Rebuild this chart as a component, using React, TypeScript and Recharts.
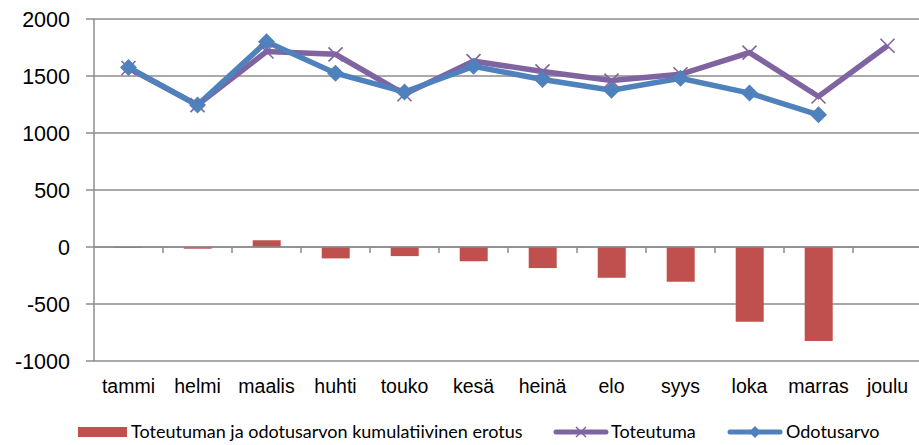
import React from 'react';
import { ComposedChart, Bar, Line, XAxis, YAxis, CartesianGrid, ReferenceLine } from 'recharts';

const months = ['tammi', 'helmi', 'maalis', 'huhti', 'touko', 'kesä', 'heinä', 'elo', 'syys', 'loka', 'marras', 'joulu'];
const toteutuma = [1570, 1245, 1715, 1690, 1340, 1630, 1540, 1460, 1515, 1705, 1320, 1765];
const odotusarvo: (number | null)[] = [1575, 1245, 1800, 1525, 1360, 1585, 1470, 1375, 1480, 1350, 1160, null];
const erotus = [-8, -15, 60, -100, -80, -125, -185, -270, -305, -655, -825, null];
const yTicks = [-1000, -500, 0, 500, 1000, 1500, 2000];

const RED = '#C0504D';
const PURPLE = '#8064A2';
const BLUE = '#4F81BD';
const GRID = '#8c8c8c';

const data = months.map((m, i) => ({
  name: m,
  erotus: erotus[i],
  toteutuma: toteutuma[i],
  odotusarvo: odotusarvo[i],
}));

const CrossDot = (props: any) => {
  const { cx, cy } = props;
  if (cx == null || cy == null) return null;
  const s = 7;
  return (
    <g stroke={PURPLE} strokeWidth={1.6}>
      <line x1={cx - s} y1={cy - s} x2={cx + s} y2={cy + s} />
      <line x1={cx - s} y1={cy + s} x2={cx + s} y2={cy - s} />
    </g>
  );
};

const DiamondDot = (props: any) => {
  const { cx, cy, value } = props;
  if (cx == null || cy == null || value == null) return null;
  const s = 8.5;
  return <path d={`M${cx},${cy - s}L${cx + s},${cy}L${cx},${cy + s}L${cx - s},${cy}Z`} fill={BLUE} />;
};

// zero line with small category separator ticks below it
const ZeroAxis = (props: any) => {
  const { x1, y1, x2 } = props;
  if (x1 == null) return null;
  const n = months.length;
  const step = (x2 - x1) / n;
  return (
    <g stroke={GRID} strokeWidth={1.5}>
      <line x1={x1} y1={y1} x2={x2} y2={y1} />
      {months.map((_, i) => (
        <line key={i} x1={x1 + step * (i + 1)} y1={y1} x2={x1 + step * (i + 1)} y2={y1 + 6} />
      ))}
    </g>
  );
};

const legendText: React.CSSProperties = {
  position: 'absolute',
  top: 421,
  fontFamily: 'Lato, sans-serif',
  fontSize: 18,
  color: '#000',
  lineHeight: '21px',
  whiteSpace: 'nowrap',
};

const LineSwatch = ({ left, color, marker }: { left: number; color: string; marker: 'x' | 'd' }) => (
  <svg style={{ position: 'absolute', left, top: 424 }} width={56} height={16}>
    <line x1={3} y1={8} x2={53} y2={8} stroke={color} strokeWidth={5} strokeLinecap="round" />
    {marker === 'x' ? (
      <g stroke={color} strokeWidth={1.5}>
        <line x1={23} y1={3} x2={33} y2={13} />
        <line x1={23} y1={13} x2={33} y2={3} />
      </g>
    ) : (
      <path d="M28,2L34,8L28,14L22,8Z" fill={color} />
    )}
  </svg>
);

export default function App() {
  return (
    <div style={{ position: 'absolute', left: 0, top: 0, width: 919, height: 445, overflow: 'hidden', background: '#fff' }}>
      <ComposedChart
        width={922}
        height={445}
        data={data}
        margin={{ top: 19, right: 0, bottom: 0, left: 0 }}
        barCategoryGap="30%"
      >
        <CartesianGrid vertical={false} stroke={GRID} strokeWidth={1.5} />
        <XAxis
          dataKey="name"
          axisLine={false}
          tickLine={false}
          tickMargin={12}
          height={84}
          interval={0}
          tick={{ fill: '#000', fontSize: 19.5, fontFamily: 'Liberation Sans, Arial, sans-serif' }}
        />
        <YAxis
          domain={[-1000, 2000]}
          ticks={yTicks}
          width={94}
          axisLine={{ stroke: GRID, strokeWidth: 1.5 }}
          tickLine={{ stroke: GRID, strokeWidth: 1.5 }}
          tickSize={8}
          tickMargin={16}
          tick={{ fill: '#000', fontSize: 21.5, fontFamily: 'Liberation Sans, Arial, sans-serif' }}
        />
        <Bar dataKey="erotus" fill={RED} isAnimationActive={false} />
        <ReferenceLine y={0} shape={ZeroAxis} />
        <Line
          dataKey="toteutuma"
          stroke={PURPLE}
          strokeWidth={5.5}
          dot={CrossDot}
          activeDot={false}
          isAnimationActive={false}
        />
        <Line
          dataKey="odotusarvo"
          stroke={BLUE}
          strokeWidth={5.5}
          dot={DiamondDot}
          activeDot={false}
          isAnimationActive={false}
        />
      </ComposedChart>
      <div style={{ position: 'absolute', left: 78, top: 427, width: 49, height: 10, background: RED }} />
      <div style={{ ...legendText, left: 131 }}>Toteutuman ja odotusarvon kumulatiivinen erotus</div>
      <LineSwatch left={553} color={PURPLE} marker="x" />
      <div style={{ ...legendText, left: 611 }}>Toteutuma</div>
      <LineSwatch left={727} color={BLUE} marker="d" />
      <div style={{ ...legendText, left: 786 }}>Odotusarvo</div>
    </div>
  );
}
